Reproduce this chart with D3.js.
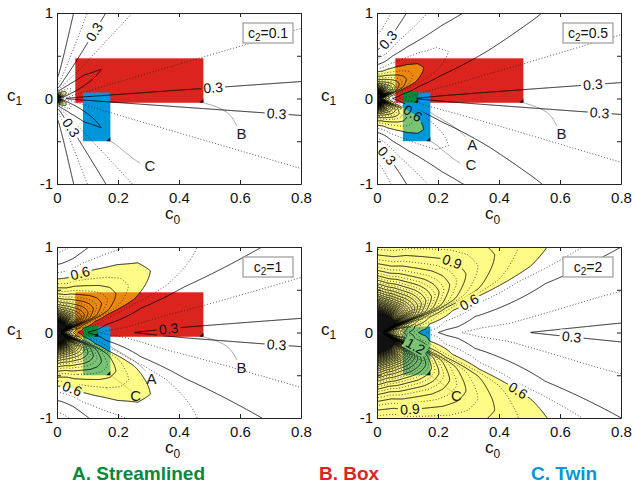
<!DOCTYPE html>
<html>
<head>
<meta charset="utf-8">
<script src="https://cdn.jsdelivr.net/npm/d3@7"></script>
<style>
  html, body { margin: 0; padding: 0; background: #ffffff; }
  svg { display: block; font-family: "Liberation Sans", Arial, Helvetica, sans-serif; }
</style>
</head>
<body>
<svg id="chart" width="633" height="484"></svg>
<script>
// ---- panels: one contour map per c2 value ----
const c2Values = [0.1, 0.5, 1, 2];
const c2Labels = ["0.1", "0.5", "1", "2"];

// axis ranges and ticks
const c0Domain = [0, 0.8];
const c1Domain = [-1, 1];
const c0Ticks = [0, 0.2, 0.4, 0.6, 0.8];
const c1Ticks = [-1, -0.5, 0, 0.5, 1];
const c1TickLabels = { "-1": "-1", "0": "0", "1": "1" };

// field model f(c0, c1; c2) = base(θ) + (c2 · pole(θ) / r)^poleExponent,
// θ = angle of (|c0|, |c1|) in degrees, r = its length
const angleKnots = [0, 8.5, 14, 30, 46, 52, 57, 61, 63, 67, 72, 76, 80.5, 84, 86.5, 89, 90];
const baseLevel  = [0.24, 0.27, 0.30, 0.34, 0.375, 0.39, 0.405, 0.42, 0.425, 0.43, 0.415, 0.37, 0.30, 0.225, 0.15, 0.08, 0.06];
const poleWeight = [0.032, 0.033, 0.034, 0.037, 0.06, 0.087, 0.14, 0.165, 0.18, 0.215, 0.25, 0.28, 0.31, 0.34, 0.36, 0.39, 0.40];
const poleExponent = 1.37;

// contour levels: every 0.075, solid lines on multiples of 0.15
const levelStep = 0.075;
const levelCount = 64;
const fillLevel = 0.6;

// design parameter ranges: [c0 min, c0 max, c1 min, c1 max]
const designNames  = { A: "A. Streamlined", B: "B. Box", C: "C. Twin" };
const designColors = { A: "#06893b", B: "#dc241f", C: "#0096db" };
const designRanges = {
  B: [0.06, 0.48, -0.05, 0.47],
  C: [0.085, 0.175, -0.5, 0.07],
  A: [0.085, 0.135, -0.05, 0.08]
};
const designsShown = [["B", "C"], ["B", "C", "A"], ["B", "C", "A"], ["C"]];

// leader curves (c0, c1) from each range corner to its letter, and the letter position
const leaderPaths = {
  B: [[[0.48, -0.05], [0.523, -0.094], [0.567, -0.17], [0.59, -0.32]]],
  C: [[[0.175, -0.5], [0.19, -0.525], [0.239, -0.68], [0.272, -0.755]],
      [[0.175, -0.5], [0.205, -0.575], [0.238, -0.672], [0.246, -0.69]]],
  A: [[[0.135, -0.05], [0.175, -0.17], [0.212, -0.24], [0.267, -0.36], [0.29, -0.45]]]
};
const letterPos = {
  B: [[0.605, -0.41], [0.605, -0.41], [0.605, -0.41], null],
  C: [[0.305, -0.79], [0.308, -0.78], [0.258, -0.735], [0.26, -0.735]],
  A: [null, [0.312, -0.545], [0.31, -0.545], null]
};
const leaderVariant = { B: [0, 0, 0, 0], C: [0, 0, 1, 1], A: [0, 0, 0, 0] };

// inline contour labels per panel: [level, c0, c1] near where each label sits
const contourLabels = [
  [[0.3, 0.13, 0.763], [0.3, 0.512, 0.131], [0.3, 0.72, -0.205], [0.3, 0.026, -0.388]],
  [[0.3, 0.025, 0.723], [0.3, 0.708, 0.178], [0.3, 0.73, -0.193], [0.3, 0.036, -0.66], [0.6, 0.118, -0.173]],
  [[0.6, 0.075, 0.695], [0.3, 0.365, 0.07], [0.3, 0.72, -0.17], [0.6, 0.053, -0.63]],
  [[0.9, 0.227, 0.634], [0.6, 0.304, 0.342], [0.3, 0.637, -0.108], [0.6, 0.457, -0.711], [0.9, 0.107, -0.79], [1.2, 0.1, -0.357]]
];

// ---- layout ----
const PW = 244, PH = 171;
const panelOrigin = [[57, 13], [377, 13], [57, 247], [377, 247]];
const yLabelX = [7, 321, 7, 321];

const svg = d3.select("#chart");
const defs = svg.append("defs");

const baseAt = d3.scaleLinear().domain(angleKnots).range(baseLevel).clamp(true);
const poleAt = d3.scaleLinear().domain(angleKnots).range(poleWeight).clamp(true);

function field(c0, c1, c2) {
  const x = Math.abs(c0), y = Math.abs(c1);
  const r = Math.hypot(x, y);
  if (r < 1e-9) return 50;
  const th = Math.atan2(y, x) * 180 / Math.PI;
  return Math.min(50, baseAt(th) + Math.pow(c2 * poleAt(th) / r, poleExponent));
}

// sampling grid, a little wider than the axes so outer ring edges fall outside the clip
const G = { c0min: -0.03, c0max: 0.83, c1min: -1.03, c1max: 1.03, nx: 431, ny: 516 };
G.dx = (G.c0max - G.c0min) / (G.nx - 1);
G.dy = (G.c1max - G.c1min) / (G.ny - 1);

const levels = d3.range(1, levelCount + 1).map(k => Math.round(k * levelStep * 1000) / 1000);
const fillIndex = levels.findIndex(v => Math.abs(v - fillLevel) < 1e-9);

c2Values.forEach((c2, p) => {
  const [px, py] = panelOrigin[p];
  const xs = d3.scaleLinear().domain(c0Domain).range([px, px + PW]);
  const ys = d3.scaleLinear().domain(c1Domain).range([py + PH, py]);

  const values = new Float64Array(G.nx * G.ny);
  for (let j = 0; j < G.ny; j++) {
    const c1 = G.c1max - j * G.dy;
    for (let i = 0; i < G.nx; i++) {
      values[j * G.nx + i] = field(G.c0min + i * G.dx, c1, c2);
    }
  }
  const polys = d3.contours().size([G.nx, G.ny]).thresholds(levels)(values);

  const gc0 = gx => G.c0min + (gx - 0.5) * G.dx;
  const gc1 = gy => G.c1max - (gy - 0.5) * G.dy;
  const proj = d3.geoTransform({
    point: function (gx, gy) { this.stream.point(xs(gc0(gx)), ys(gc1(gy))); }
  });
  const path = d3.geoPath(proj);

  const clipId = "clip" + p;
  defs.append("clipPath").attr("id", clipId)
    .append("rect").attr("x", px).attr("y", py).attr("width", PW).attr("height", PH);

  const g = svg.append("g");
  const plot = g.append("g").attr("clip-path", `url(#${clipId})`);
  plot.append("rect").attr("x", px).attr("y", py).attr("width", PW).attr("height", PH).attr("fill", "#fff");

  const shown = designsShown[p];

  // leader curves sit under the ranges
  const leaderLine = d3.line().x(d => xs(d[0])).y(d => ys(d[1])).curve(d3.curveBasis);
  shown.forEach(k => {
    const pts = leaderPaths[k][leaderVariant[k][p]];
    plot.append("path").attr("d", leaderLine(pts))
      .attr("fill", "none").attr("stroke", "#a9a9a9").attr("stroke-width", 1);
  });

  // parameter ranges
  shown.forEach(k => {
    const [a0, a1, b0, b1] = designRanges[k];
    plot.append("rect")
      .attr("x", xs(a0)).attr("y", ys(b1))
      .attr("width", xs(a1) - xs(a0)).attr("height", ys(b0) - ys(b1))
      .attr("fill", designColors[k]);
  });

  // region above the fill level
  plot.append("path").attr("d", path(polys[fillIndex]))
    .attr("fill", "#fff700").attr("fill-opacity", 0.47).attr("stroke", "none");

  // label placement on the contour lines
  const labelGroup = [];
  contourLabels[p].forEach(([lev, c0, c1]) => {
    const li = levels.findIndex(v => Math.abs(v - lev) < 1e-9);
    const tx = xs(c0), ty = ys(c1);
    let best = null, bd = Infinity;
    polys[li].coordinates.forEach(poly => poly.forEach(ring => {
      for (let i = 0; i < ring.length; i++) {
        const sx = xs(gc0(ring[i][0])), sy = ys(gc1(ring[i][1]));
        if (sx < px + 6 || sx > px + PW - 6 || sy < py + 6 || sy > py + PH - 6) continue;
        const d = (sx - tx) ** 2 + (sy - ty) ** 2;
        if (d < bd) { bd = d; best = { ring, i, sx, sy }; }
      }
    }));
    if (!best) return;
    const n = best.ring.length;
    const a = best.ring[(best.i - 4 + n) % n], b = best.ring[(best.i + 4) % n];
    let ang = Math.atan2(ys(gc1(b[1])) - ys(gc1(a[1])), xs(gc0(b[0])) - xs(gc0(a[0]))) * 180 / Math.PI;
    if (ang > 90) ang -= 180;
    if (ang < -90) ang += 180;
    labelGroup.push({ x: best.sx, y: best.sy, ang, text: d3.format(".1f")(lev) });
  });

  // mask that breaks the lines under each label
  const maskId = "mask" + p;
  const mask = defs.append("mask").attr("id", maskId).attr("maskUnits", "userSpaceOnUse")
    .attr("x", px - 5).attr("y", py - 5).attr("width", PW + 10).attr("height", PH + 10);
  mask.append("rect").attr("x", px - 5).attr("y", py - 5).attr("width", PW + 10).attr("height", PH + 10).attr("fill", "#fff");
  labelGroup.forEach(l => {
    mask.append("rect").attr("x", -12).attr("y", -6.5).attr("width", 24).attr("height", 13)
      .attr("fill", "#000").attr("transform", `translate(${l.x},${l.y}) rotate(${l.ang})`);
  });

  const lines = plot.append("g").attr("mask", `url(#${maskId})`);
  // the innermost band around the pole is too dense to resolve as separate lines
  lines.append("path").attr("d", path(polys[levels.length - 1]))
    .attr("fill", "#111").attr("stroke", "none");
  polys.forEach((mp, i) => {
    if (!mp.coordinates.length) return;
    const solid = (i % 2 === 1);
    lines.append("path").attr("d", path(mp))
      .attr("fill", "none")
      .attr("stroke", solid ? "#000" : "#222")
      .attr("stroke-width", 0.9)
      .attr("stroke-dasharray", solid ? null : "0.9,2.1");
  });

  labelGroup.forEach(l => {
    plot.append("text").attr("transform", `translate(${l.x},${l.y}) rotate(${l.ang})`)
      .attr("text-anchor", "middle").attr("dy", "0.35em")
      .attr("font-size", 14).attr("fill", "#111").text(l.text);
  });

  // corner markers on each range
  shown.forEach(k => {
    const [, a1, b0] = designRanges[k];
    const cx = xs(a1), cy = ys(b0);
    plot.append("path").attr("d", `M${cx},${cy}L${cx - 4},${cy}L${cx},${cy - 4}Z`).attr("fill", "#111");
  });

  // range letters
  shown.forEach(k => {
    const pos = letterPos[k][p];
    if (!pos) return;
    plot.append("text").attr("x", xs(pos[0])).attr("y", ys(pos[1])).attr("dy", "0.35em")
      .attr("text-anchor", "middle").attr("font-size", 15).attr("fill", "#1a1a1a").text(k);
  });

  // axes: inward ticks on all sides
  const styleAxis = sel => {
    sel.attr("font-family", null).attr("font-size", null);
    sel.selectAll("path.domain").attr("stroke", "#222");
    sel.selectAll(".tick line").attr("stroke", "#222");
    sel.selectAll("text").attr("font-size", 15).attr("fill", "#111");
  };
  g.append("g").attr("transform", `translate(0,${py + PH})`)
    .call(d3.axisBottom(xs).tickValues(c0Ticks).tickFormat(d3.format("")).tickSize(-4).tickSizeOuter(0).tickPadding(8))
    .call(styleAxis);
  g.append("g").attr("transform", `translate(0,${py})`)
    .call(d3.axisTop(xs).tickValues(c0Ticks).tickFormat("").tickSize(-4).tickSizeOuter(0))
    .call(styleAxis);
  g.append("g").attr("transform", `translate(${px},0)`)
    .call(d3.axisLeft(ys).tickValues(c1Ticks).tickFormat(d => c1TickLabels[String(d)] || "").tickSize(-4).tickSizeOuter(0).tickPadding(4))
    .call(styleAxis);
  g.append("g").attr("transform", `translate(${px + PW},0)`)
    .call(d3.axisRight(ys).tickValues(c1Ticks).tickFormat("").tickSize(-4).tickSizeOuter(0))
    .call(styleAxis);

  // axis titles c0 and c1
  const xt = g.append("text").attr("x", px + 108).attr("y", py + PH + 35).attr("font-size", 17).attr("fill", "#111");
  xt.append("tspan").text("c");
  xt.append("tspan").attr("dy", 5).attr("font-size", 12).text("0");
  const yt = g.append("text").attr("x", yLabelX[p]).attr("y", py + 88).attr("font-size", 17).attr("fill", "#111");
  yt.append("tspan").text("c");
  yt.append("tspan").attr("dy", 4).attr("font-size", 12).text("1");

  // c2 legend box
  const lx = px + PW - 58, ly = py + 10;
  g.append("rect").attr("x", lx).attr("y", ly).attr("width", 50).attr("height", 20)
    .attr("fill", "#fff").attr("stroke", "#9a9a9a").attr("stroke-width", 1.2);
  const lt = g.append("text").attr("x", lx + 25).attr("y", ly + 15).attr("text-anchor", "middle")
    .attr("font-size", 14).attr("fill", "#111");
  lt.append("tspan").text("c");
  lt.append("tspan").attr("dy", 3).attr("font-size", 10).text("2");
  lt.append("tspan").attr("dy", -3).text("=" + c2Labels[p]);
});

// design legend along the bottom
const legendX = { A: 72, B: 319, C: 531 };
["A", "B", "C"].forEach(k => {
  svg.append("text").attr("x", legendX[k]).attr("y", 479.5)
    .attr("font-size", 19).attr("font-weight", "bold").attr("fill", designColors[k])
    .text(designNames[k]);
});
</script>
</body>
</html>
